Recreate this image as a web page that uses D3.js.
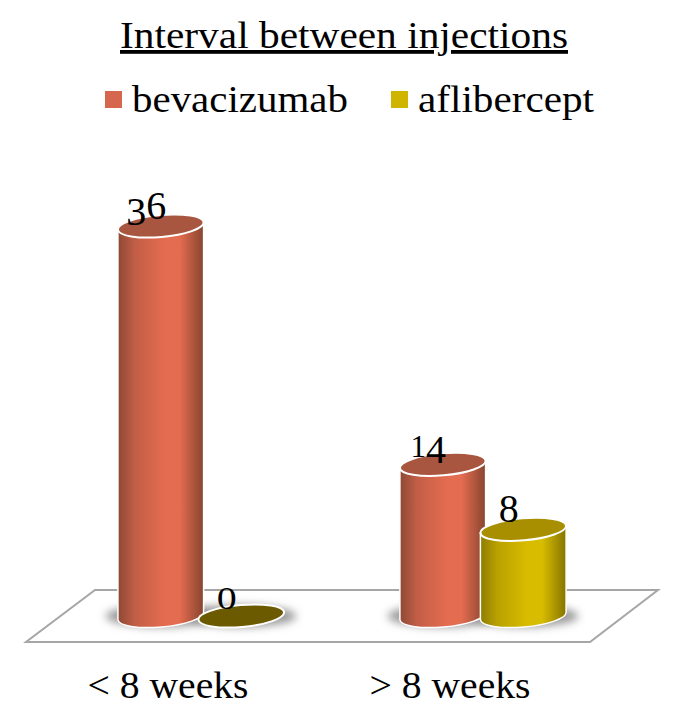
<!DOCTYPE html>
<html>
<head>
<meta charset="utf-8">
<script src="https://cdnjs.cloudflare.com/ajax/libs/d3/7.8.5/d3.min.js"></script>
<style>
	html, body { margin: 0; padding: 0; background: #fff; }
	text { font-family: "Liberation Serif", serif; fill: #000; }
</style>
</head>
<body>
<div id="chart"></div>
<script>
const categories = ['< 8 weeks', '> 8 weeks'];
const seriesNames = ['bevacizumab', 'aflibercept'];
const bevacizumab = [36, 14];
const aflibercept = [0, 8];
const seriesValues = [bevacizumab, aflibercept];

const width = 687, height = 724;

const colors = {
	bevacizumab: { legend: '#d6674f', side: '#e46c50', edgeL: '#8e4936', edgeR: '#87442f', top: '#a8563f' },
	aflibercept: { legend: '#cfb500', side: '#d8bc00', edgeL: '#8d7c00', edgeR: '#857400', top: '#a78f00', flat: '#6c5a00' }
};

// Liberation is narrower than the source face, so text is stretched to the measured widths
const legendWidths = { bevacizumab: 216, aflibercept: 176 };

const svg = d3.select('#chart').append('svg')
	.attr('width', width)
	.attr('height', height);

// ----------------------------------
// SCALES
// ----------------------------------

const xScale0 = d3.scaleBand()
	.domain(categories)
	.range([60, 624]);

const xScale1 = d3.scaleBand()
	.domain(seriesNames)
	.range([xScale0.bandwidth() / 2 - 80.5, xScale0.bandwidth() / 2 + 80.5]);

const yScale = d3.scaleLinear()
	.domain([0, 36])
	.range([616, 226]);

const rx = 43, ry = 11, tilt = -5;
const tiltRad = tilt * Math.PI / 180;
const dx = rx * Math.cos(tiltRad), dy = rx * Math.sin(tiltRad);

// ----------------------------------
// DEFS
// ----------------------------------

const defs = svg.append('defs');

defs.append('filter')
	.attr('id', 'blur')
	.attr('x', '-30%').attr('y', '-80%')
	.attr('width', '160%').attr('height', '260%')
	.append('feGaussianBlur')
	.attr('stdDeviation', 4);

seriesNames.forEach(name => {
	const c = colors[name];
	const grad = defs.append('linearGradient').attr('id', 'side-' + name);
	[[0, c.edgeL], [0.2, d3.interpolateRgb(c.edgeL, c.side)(0.6)], [0.55, c.side], [0.72, c.side], [1, c.edgeR]].forEach(s => {
		grad.append('stop').attr('offset', s[0]).attr('stop-color', s[1]);
	});
});

// ----------------------------------
// FLOOR
// ----------------------------------

const floorTop = yScale(0) - 26, floorBottom = yScale(0) + 26;

svg.append('path')
	.attr('d', `M95,${floorTop} L658,${floorTop} L590,${floorBottom} L26,${floorBottom} Z`)
	.attr('fill', '#fff')
	.attr('stroke', '#a6a6a6')
	.attr('stroke-width', 2);

// ----------------------------------
// BARS
// ----------------------------------

const bars = [];
seriesNames.forEach((name, s) => {
	categories.forEach((cat, i) => {
		bars.push({ name, cat, value: seriesValues[s][i], cx: xScale0(cat) + xScale1(name) + xScale1.bandwidth() / 2 });
	});
});

// shadows sit on the floor, under every bar
svg.append('g').selectAll('ellipse')
	.data(bars)
	.enter()
	.append('ellipse')
	.attr('cx', d => d.cx)
	.attr('cy', yScale(0))
	.attr('rx', rx + 12)
	.attr('ry', ry)
	.attr('fill', '#999')
	.attr('filter', 'url(#blur)');

const barGroups = svg.append('g').selectAll('g')
	.data(bars)
	.enter()
	.append('g');

barGroups.filter(d => d.value > 0)
	.append('path')
	.attr('d', d => {
		const top = yScale(d.value), base = yScale(0);
		return `M${d.cx - dx},${top - dy} L${d.cx - dx},${base - dy} ` +
			`A${rx},${ry} ${tilt} 0 0 ${d.cx + dx},${base + dy} L${d.cx + dx},${top + dy} Z`;
	})
	.attr('fill', d => `url(#side-${d.name})`)
	.attr('stroke', '#fff')
	.attr('stroke-width', 1.5);

barGroups.append('ellipse')
	.attr('rx', rx)
	.attr('ry', ry)
	.attr('transform', d => `translate(${d.cx},${yScale(d.value)}) rotate(${tilt})`)
	.attr('fill', d => d.value > 0 ? colors[d.name].top : colors[d.name].flat)
	.attr('stroke', '#fff')
	.attr('stroke-width', 2);

// ----------------------------------
// VALUE LABELS
// ----------------------------------

// the source face has old-style figures, so each digit gets its own size and drop
const digitStyle = { 0: [31, 0], 1: [31, 0], 3: [40, 6], 4: [40, 6], 6: [40, 0], 8: [40, 0] };

svg.append('g').selectAll('text')
	.data(bars)
	.enter()
	.append('text')
	.attr('x', d => d.cx - 14.5)
	.attr('y', d => yScale(d.value) - 7)
	.attr('text-anchor', 'middle')
	.each(function(d) {
		let prev = 0;
		String(d.value).split('').forEach(ch => {
			const st = digitStyle[ch];
			d3.select(this).append('tspan')
				.attr('font-size', st[0])
				.attr('dy', st[1] - prev)
				.text(ch);
			prev = st[1];
		});
		if (d.value === 0) {
			d3.select(this).attr('textLength', 20).attr('lengthAdjust', 'spacingAndGlyphs');
		}
	});

// ----------------------------------
// CATEGORY LABELS
// ----------------------------------

svg.append('g').selectAll('text')
	.data(categories)
	.enter()
	.append('text')
	.attr('x', d => xScale0(d) + xScale0.bandwidth() / 2 - 33)
	.attr('y', 698)
	.attr('text-anchor', 'middle')
	.attr('font-size', 37)
	.attr('textLength', 161)
	.attr('lengthAdjust', 'spacingAndGlyphs')
	.text(d => d);

// ----------------------------------
// TITLE AND LEGEND
// ----------------------------------

svg.append('text')
	.attr('x', 344)
	.attr('y', 48)
	.attr('text-anchor', 'middle')
	.attr('font-size', 38)
	.attr('text-decoration', 'underline')
	.attr('textLength', 448)
	.attr('lengthAdjust', 'spacingAndGlyphs')
	.text('Interval between injections');

const legendX = d3.scaleOrdinal().domain(seriesNames).range([105, 391]);

const legend = svg.append('g').selectAll('g')
	.data(seriesNames)
	.enter()
	.append('g')
	.attr('transform', d => `translate(${legendX(d)},0)`);

legend.append('rect')
	.attr('y', 91)
	.attr('width', 17)
	.attr('height', 17)
	.attr('fill', d => colors[d].legend);

legend.append('text')
	.attr('x', 27)
	.attr('y', 112)
	.attr('font-size', 38)
	.attr('textLength', d => legendWidths[d])
	.attr('lengthAdjust', 'spacingAndGlyphs')
	.text(d => d);
</script>
</body>
</html>
